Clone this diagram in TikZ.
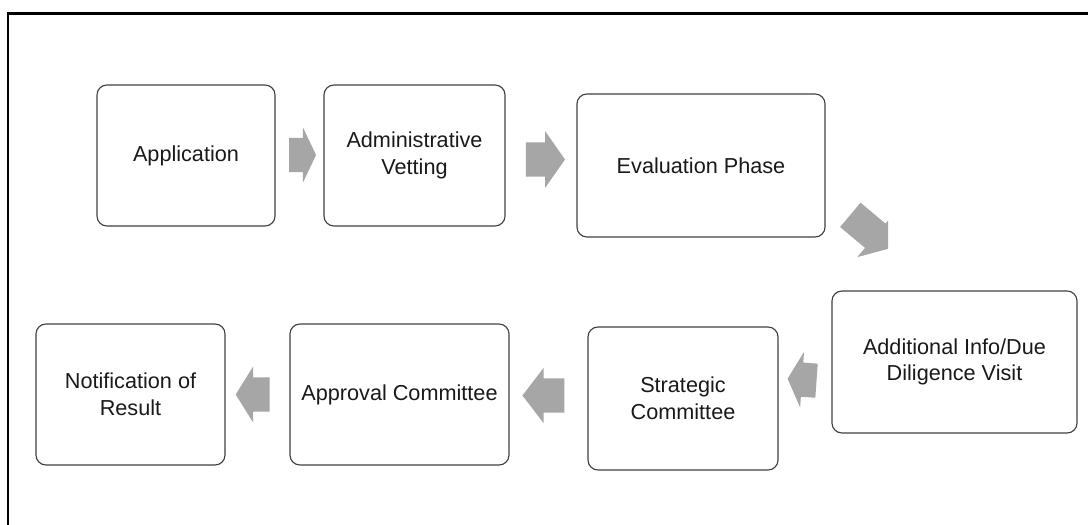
\documentclass[tikz,border=0pt]{standalone}
\usepackage{fontspec}
\setmainfont{Liberation Sans}
\usetikzlibrary{shapes.arrows}
\definecolor{arrowgrey}{RGB}{166,166,166}
\definecolor{boxline}{RGB}{64,64,64}

\begin{document}
\begin{tikzpicture}[x=0.025cm,y=-0.025cm]
	\tikzstyle{stage}=[rectangle,rounded corners=0.25cm,draw=boxline,line width=0.8pt,align=center,font=\fontsize{15.4}{19}\selectfont,text=black!90,inner sep=2pt]
	\tikzstyle{flow}=[single arrow,fill=arrowgrey,draw=none,inner xsep=0pt,inner ysep=0.42cm]

	\useasboundingbox (0,0) rectangle (1088,525);
	\draw[line width=2pt] (1088,13.5) -- (8,13.5) -- (8,525);

	% top row
	\node [stage,minimum width=4.45cm,minimum height=3.525cm] (1) at (186,155.5) {Application};
	\node [stage,minimum width=4.525cm,minimum height=3.525cm] (2) at (414.5,155.5) {Administrative\\Vetting};
	\node [stage,minimum width=6.2cm,minimum height=3.575cm] (3) at (701,165.5) {Evaluation Phase};

	% bottom row
	\node [stage,minimum width=6.125cm,minimum height=3.55cm] (4) at (954.5,362) {Additional Info/Due\\Diligence Visit};
	\node [stage,minimum width=4.75cm,minimum height=3.575cm] (5) at (683,398.5) {Strategic\\Committee};
	\node [stage,minimum width=5.475cm,minimum height=3.525cm] (6) at (399.5,394.5) {Approval Committee};
	\node [stage,minimum width=4.725cm,minimum height=3.525cm] (7) at (130.5,394.5) {Notification of\\Result};

	% block arrows
	\node [flow,minimum height=0.675cm,single arrow head extend=0.26cm,single arrow tip angle=129] (a1) at (298.5,155) {};
	\node [flow,minimum height=0.975cm,single arrow head extend=0.28cm,single arrow tip angle=110] (a2) at (539.5,159.5) {};
	\begin{scope}
		\clip (0,0) rectangle (888,525);
		\node [flow,inner ysep=0.39cm,minimum height=1.3cm,single arrow head extend=0.3cm,single arrow tip angle=110,rotate=-40] (a3) at (866,228) {};
	\end{scope}
	\node [flow,minimum height=0.725cm,single arrow head extend=0.27cm,single arrow tip angle=125,shape border rotate=180,rotate=-4] (a4) at (806.5,380) {};
	\node [flow,minimum height=1.05cm,single arrow head extend=0.26cm,single arrow tip angle=105,shape border rotate=180] (a5) at (550,395.5) {};
	\node [flow,minimum height=0.85cm,single arrow head extend=0.27cm,single arrow tip angle=116,shape border rotate=180] (a6) at (258,394.5) {};

\end{tikzpicture}
\end{document}
